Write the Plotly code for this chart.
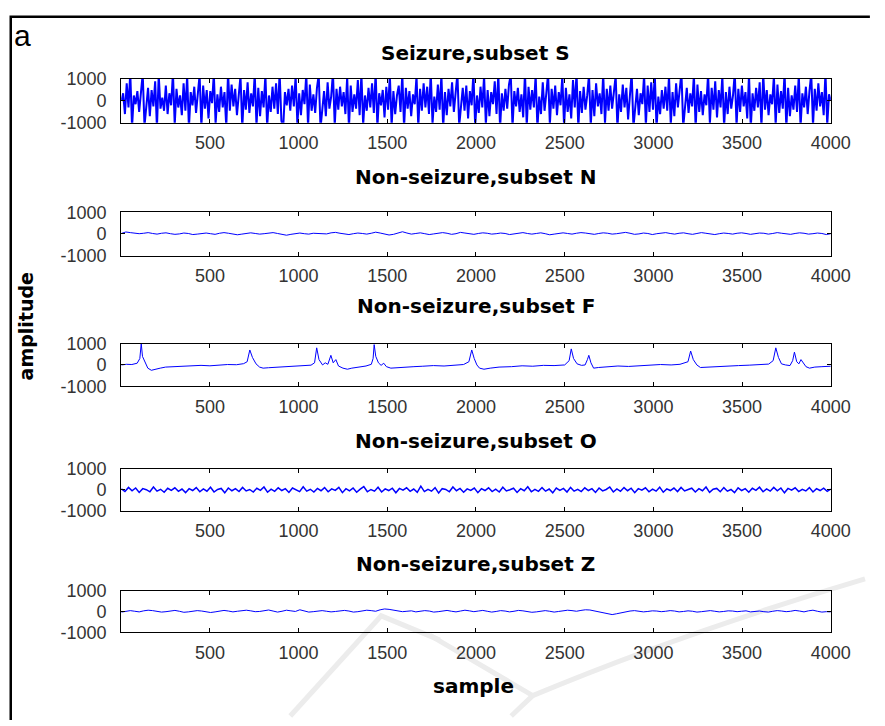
import numpy as np
import plotly.graph_objects as go

# ---------------- data ----------------
x_tick_vals = [500, 1000, 1500, 2000, 2500, 3000, 3500, 4000]
y_tick_vals = [-1000, 0, 1000]
titles = ["Seizure,subset S", "Non-seizure,subset N", "Non-seizure,subset F",
          "Non-seizure,subset O", "Non-seizure,subset Z"]

# subset S, one value every 10 samples
seizure_S = [
    0, 350, -600, 800, -300, 1300, -1200, 250, -150, 450, -500, 300, 1250, -1150, -400, 600, -700, 500, -250, 900,
    -1250, 1200, -350, 150, -450, 700, -600, 350, -200, 1300, -1100, 550, -300, 250, -650, 800, -450, 1150, -1250, 400,
    -200, 650, -550, 300, 1200, -1200, 700, -350, 500, -800, 450, -100, 1250, -1050, 300, -500, 650, -300, 400, -1200,
    1300, -450, 750, -250, 550, -650, 200, 1150, -1250, 500, -400, 850, -550, 350, -250, 1250, -1150, 600, -700, 450,
    -300, 1200, -1200, 250, -500, 650, -350, 800, -600, 1300, -900, -1250, 400, -200, 550, -450, 700, -250, 1150, -1100,
    350, -650, 500, -150, 1250, -1200, 750, -450, 300, -550, 600, 1200, -1250, -300, 450, -700, 850, -350, 200, 1300,
    -1150, 550, -400, 650, -250, 400, -600, 1100, -1250, 700, -500, 300, -350, 950, -650, 1250, -1100, 250, -450, 600,
    -300, 800, -550, 1300, -1200, 350, -200, 500, -750, 650, -400, 1200, -1150, 450, -600, 250, 700, -500, 1250, -1250,
    600, -350, 450, -700, 300, -150, 1150, -1200, 550, -450, 800, -300, 650, -600, 1300, -1050, 200, -500, 750, -400,
    1200, -1250, 400, -650, 550, -250, 850, -500, 300, 1250, -1150, -350, 600, -450, 700, -800, 450, -200, 1300, -1200,
    250, -550, 650, -300, 1150, -1100, 500, -700, 400, -150, 900, -600, 1250, -1250, 350, -450, 550, -350, 750, 1200,
    -1200, 450, -250, 600, -500, 300, -750, 1300, -1150, 650, -400, 500, -300, 1200, -1250, 200, -600, 850, -450, 350,
    1250, -1100, 550, -350, 700, -650, 400, -200, 1150, -1200, 600, -500, 300, -800, 950, -300, 1300, -1250, 450, -550,
    650, -400, 250, 1200, -1150, 500, -700, 800, -250, 350, -600, 1250, -1050, 550, -450, 700, -350, 400, 1150, -1250,
    300, -500, 750, -300, 600, -850, 450, 1300, -1200, -250, 550, -650, 350, -150, 1200, -1150, 700, -500, 850, -400,
    1250, -1250, 200, -600, 500, -350, 650, -450, 1150, -1100, 400, -700, 800, -300, 550, 1300, -1200, -400, 600, -550,
    350, -250, 1200, -1250, 750, -500, 450, -650, 300, -200, 1250, -1050, 600, -400, 900, -750, 500, -300, 1150, -1200,
    400, -600, 650, -350, 250, 1300, -1150, 550, -500, 700, -250, 400, -800, 1200, -1250, 350, -450, 600, -300, 850,
    -1200, 1250, -400, 500, -650, 300, -150, 1150, -1100, 750, -550, 450, -350, 1300, -1250, 600, -700, 250, -400, 700,
    -500, 1200, -1200, 350, -300, 650, -600, 450, 1250, -1150, 550, -450, 800, -250, 400, -650, 1300, -1100, 300, 0,
]

# subset N, one value every 25 samples
nonseizure_N = [
    20, 90, 60, 40, 10, 30, 60, 20, -10, 30, 50, 10, -20, 0, 40, 20, -30, -10, 20, 40,
    10, -20, 30, 60, 30, 0, -40, -10, 30, 50, 20, -10, 10, 40, 60, 20, -30, -60, -20, 20,
    40, 10, -10, 30, 20, -20, 0, 50, 70, 30, 0, -30, 10, 40, 20, -10, 30, 80, 40, 0,
    -50, -20, 30, 100, 40, -10, 20, 50, 10, -30, 0, 40, 60, 30, -20, 10, 70, 40, 10, -20,
    20, 50, 30, -10, 10, 40, 20, -30, 0, 30, 60, 20, -10, 20, 50, 10, -40, -10, 30, 50,
    20, -10, 30, 60, 40, 0, -20, 20, 50, 30, -10, 10, 40, 70, 30, -20, 0, 40, 20, -30,
    10, 40, 60, 20, -10, 30, 50, 10, -20, 20, 60, 30, 0, -30, 10, 40, 20, -10, 30, 50,
    20, -20, 10, 40, 30, -10, 20, 60, 30, 0, -20, 20, 50, 30, -10, 10, 40, 20, -30, 10,
]

# subset F, sample index / amplitude pairs
nonseizure_F_x = [
    1, 30, 60, 90, 105, 113, 120, 135, 150, 170, 190, 220, 250, 300, 350, 400, 450, 500, 550, 600,
    650, 690, 710, 725, 740, 760, 780, 800, 830, 880, 930, 980, 1030, 1070, 1090, 1102, 1115, 1135, 1150, 1165,
    1182, 1195, 1210, 1225, 1250, 1275, 1300, 1340, 1380, 1410, 1420, 1426, 1435, 1450, 1465, 1480, 1495, 1520, 1560, 1600,
    1650, 1700, 1760, 1820, 1880, 1930, 1960, 1976, 1990, 2005, 2020, 2045, 2080, 2130, 2200, 2260, 2320, 2380, 2440, 2500,
    2525, 2537, 2550, 2570, 2595, 2615, 2628, 2636, 2648, 2663, 2690, 2740, 2800, 2860, 2920, 2980, 3040, 3100, 3150, 3195,
    3210, 3225, 3245, 3265, 3300, 3360, 3420, 3480, 3540, 3600, 3650, 3675, 3690, 3705, 3722, 3745, 3770, 3785, 3795, 3808,
    3820, 3832, 3845, 3860, 3880, 3910, 3950, 3980, 4000,
]
nonseizure_F_y = [
    0, 30, 20, 80, 300, 1000, 400, 100, -150, -250, -200, -150, -100, -80, -50, -60, -20, -40, 0, 20,
    10, 60, 150, 700, 350, 50, -100, -150, -130, -110, -90, -50, -40, -10, 100, 800, 250, 0, 100, 30,
    450, 100, 250, -50, -150, -200, -150, -100, -50, 30, 300, 950, 400, 100, -20, 80, -80, -150, -120, -100,
    -80, -60, -30, -50, -20, 20, 150, 700, 300, 0, -150, -200, -150, -100, -80, -40, -60, -20, -30, 0,
    200, 750, 300, 50, -20, 0, 250, 450, 100, -150, -120, -80, -50, -70, -30, -10, 20, 0, 30, 150,
    650, 250, 0, -120, -100, -80, -60, -30, -10, 10, 40, 200, 800, 350, 50, 0, -30, 200, 600, 150,
    50, 250, 100, -80, -150, -100, -80, -50, -60,
]

# subset O, one value every 20 samples
nonseizure_O = [
    50, -80, 120, -40, 90, -120, 60, 10, -90, 140, -60, 30, -110, 80, -20, 100, -70, 40, -130, 60,
    -30, 110, -90, 50, -60, 130, -100, 20, 70, -140, 90, -40, 60, -80, 120, -50, 20, -100, 80, -20,
    140, -110, 40, -70, 100, -30, 60, -120, 90, -10, -80, 150, -60, 30, -100, 70, -40, 110, -90, 50,
    -20, 120, -130, 60, -50, 90, -110, 40, 160, -90, 20, -60, 130, -100, 50, -30, 80, -140, 70, -10,
    100, -70, 40, -120, 180, -80, 30, -60, 110, -150, 60, 20, -90, 140, -40, 70, -110, 50, -20, 90,
    -130, 60, -30, 100, -80, 40, -100, 130, -50, 10, 80, -120, 60, -40, 150, -90, 30, -70, 110, -60,
    40, -140, 90, -20, 70, -100, 120, -60, 30, -80, 100, -30, 60, -120, 90, -50, 20, 140, -100, 50,
    -70, 110, -40, 80, -130, 60, -10, 100, -90, 40, -60, 130, -110, 50, -30, 90, -80, 120, -50, 20,
    80, -100, 60, -40, 140, -120, 30, 70, -90, 110, -60, 20, -130, 100, -30, 60, -110, 80, -20, 130,
    -90, 50, -60, 120, -40, 90, -140, 70, -10, 100, -80, 30, -50, 110, -100, 60, -30, 80, -70, 40,
]

# subset Z, one value every 25 samples
nonseizure_Z = [
    -30, 20, 40, 10, -20, 30, 60, 40, 0, -30, -10, 20, 50, 10, -40, -20, 10, 40, 20, -10,
    -50, -20, 30, 50, 20, -20, 10, 40, 60, 30, -10, 0, 40, 70, 20, -30, 10, 60, 30, 0,
    80, 20, -30, -10, 20, 40, 10, -20, 0, 30, 50, 20, -30, -10, 20, 60, 40, 10, 80, 120,
    100, 60, 20, -10, 10, 30, -20, 0, 40, 20, -30, -10, 30, 50, 10, -20, 20, 60, 30, -10,
    20, 50, 10, -30, 0, 40, 20, -20, 10, 50, 30, -10, -40, -20, 20, 40, 10, -30, 0, 30,
    60, 40, 10, 50, 80, 70, 30, -10, -80, -120, -150, -110, -60, -20, 20, 40, 10, -20, 0, 30,
    20, -10, 10, 40, 20, -20, 0, 30, 10, -30, -10, 20, 40, 10, -20, 0, 30, 20, -10, 10,
    30, -20, 0, 20, -10, -30, 10, 40, 20, -10, 10, 50, 20, -20, 30, 60, 10, -30, -10, -20,
]

# ---------------- layout helpers ----------------
W, H = 885, 726
def px(x):
    return x / W
def py(y):
    return 1 - y / H

X0, X1 = 124, 850
panels = [(71, 116), (208, 252.5), (343, 387), (472, 515), (597, 640)]
title_y = [44, 172, 304, 443, 570]
line_w = [2.0, 1.0, 1.0, 1.5, 1.0]

def samples(n):
    return np.linspace(1, 4000, n)

series = [
    (samples(len(seizure_S)), seizure_S),
    (samples(len(nonseizure_N)), nonseizure_N),
    (nonseizure_F_x, nonseizure_F_y),
    (samples(len(nonseizure_O)), nonseizure_O),
    (samples(len(nonseizure_Z)), nonseizure_Z),
]

fig = go.Figure()
tickfont = dict(family="Liberation Sans, Arial, sans-serif", size=18, color="#333333")
layout = {}
for i, (xs, ys) in enumerate(series):
    n = i + 1
    fig.add_trace(go.Scatter(
        x=xs, y=ys, mode="lines",
        line=dict(color="#0000ff", width=line_w[i]),
        xaxis=f"x{n}", yaxis=f"y{n}", showlegend=False, hoverinfo="skip",
    ))
    top, bot = panels[i]
    layout[f"xaxis{n}"] = dict(
        domain=[px(X0), px(X1)], anchor=f"y{n}", range=[0, 4000],
        tickmode="array", tickvals=x_tick_vals, ticktext=[str(v) for v in x_tick_vals],
        ticks="inside", ticklen=4, tickcolor="black", mirror="ticks",
        showline=True, linecolor="black", linewidth=1,
        showgrid=False, zeroline=False, tickfont=tickfont, ticklabelstandoff=4,
        fixedrange=True,
    )
    layout[f"yaxis{n}"] = dict(
        domain=[py(bot), py(top)], anchor=f"x{n}", range=[-1000, 1000],
        tickmode="array", tickvals=y_tick_vals, ticktext=["-1000", "0", "1000"],
        ticks="inside", ticklen=4, tickcolor="black", mirror="ticks",
        showline=True, linecolor="black", linewidth=1,
        showgrid=False, zeroline=False, tickfont=tickfont, ticklabelstandoff=10,
        fixedrange=True,
    )

annotations = []
boldfont = dict(family="DejaVu Sans, Verdana, sans-serif", size=20, color="black")
for i, t in enumerate(titles):
    annotations.append(dict(
        text=f"<b>{t}</b>", x=px((X0 + X1) / 2), y=py(title_y[i]), xref="paper", yref="paper",
        xanchor="center", yanchor="middle", showarrow=False, font=boldfont,
    ))
annotations.append(dict(text="<b>sample</b>", x=px(484), y=py(695), xref="paper", yref="paper",
                        xanchor="center", yanchor="middle", showarrow=False, font=boldfont))
annotations.append(dict(text="<b>amplitude</b>", x=px(27), y=py(325), xref="paper", yref="paper",
                        xanchor="center", yanchor="middle", showarrow=False, textangle=-90,
                        font=dict(family="DejaVu Sans, Verdana, sans-serif", size=19, color="black")))
annotations.append(dict(text="a", x=px(23), y=py(26), xref="paper", yref="paper",
                        xanchor="center", yanchor="middle", showarrow=False,
                        font=dict(family="Liberation Sans, Arial, sans-serif", size=30, color="black")))

wm = dict(color="#ececec", width=5)
shapes = [
    dict(type="path", xref="paper", yref="paper", layer="below",
         path=f"M {px(297)} {py(726)} L {px(390)} {py(623)} L {px(450)} {py(648)}", line=wm),
    dict(type="path", xref="paper", yref="paper", layer="below",
         path=f"M {px(440)} {py(643)} Q {px(520)} {py(690)} {px(545)} {py(705)} Q {px(700)} {py(640)} {px(885)} {py(585)}",
         line=wm),
    dict(type="path", xref="paper", yref="paper", layer="below",
         path=f"M {px(545)} {py(705)} L {px(523)} {py(726)}", line=wm),
    # outer frame (top and left edges)
    dict(type="path", xref="paper", yref="paper",
         path=f"M {px(11)} {py(730)} L {px(11)} {py(7)} L {px(890)} {py(7)}",
         line=dict(color="black", width=2.5)),
]

fig.update_layout(
    width=W, height=H, margin=dict(l=0, r=0, t=0, b=0),
    paper_bgcolor="white", plot_bgcolor="white",
    annotations=annotations, shapes=shapes, **layout,
)
fig.write_html(
    "out.html",
    config={"displayModeBar": False, "staticPlot": True},
    post_script="document.body.style.margin='0';document.body.style.padding='0';"
                "document.body.style.overflow='hidden';document.documentElement.style.overflow='hidden';",
)
